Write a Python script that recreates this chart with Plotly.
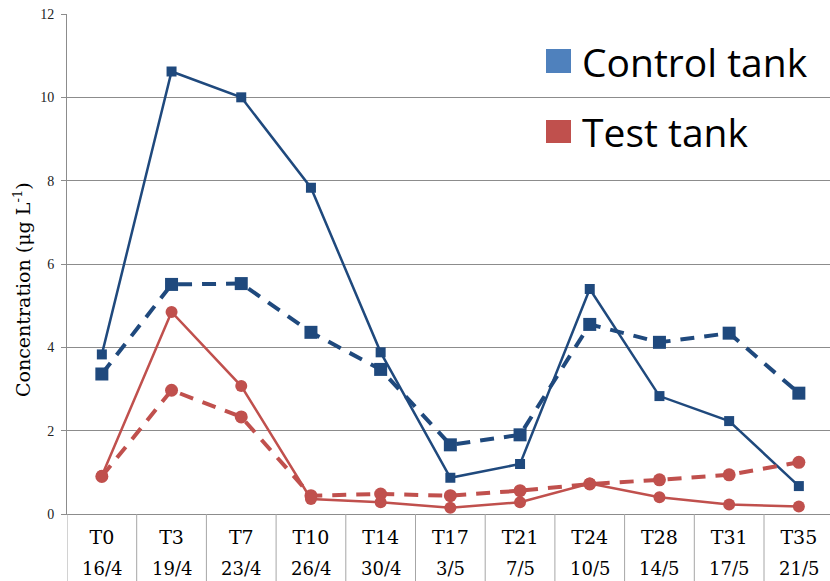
import plotly.graph_objects as go

# Sampling points and dates
periods = ["T0", "T3", "T7", "T10", "T14", "T17", "T21", "T24", "T28", "T31", "T35"]
dates = ["16/4", "19/4", "23/4", "26/4", "30/4", "3/5", "7/5", "10/5", "14/5", "17/5", "21/5"]

# Concentrations (µg L-1)
control_solid = [3.83, 10.62, 10.0, 7.83, 3.88, 0.87, 1.2, 5.4, 2.83, 2.23, 0.67]
control_dashed = [3.36, 5.51, 5.53, 4.36, 3.47, 1.66, 1.9, 4.55, 4.12, 4.34, 2.9]
test_solid = [0.92, 4.85, 3.07, 0.36, 0.28, 0.15, 0.28, 0.73, 0.4, 0.23, 0.18]
test_dashed = [0.9, 2.97, 2.33, 0.44, 0.48, 0.44, 0.56, 0.72, 0.82, 0.94, 1.24]

y_ticks = [0, 2, 4, 6, 8, 10, 12]

BLUE = "#1F497D"
RED = "#C0504D"
GRID = "#8C8C8C"
SERIF = "DejaVu Serif"

W, H = 830, 581
ML, MR, MT, MB = 67, 0, 14, 67
PW, PH = W - ML - MR, H - MT - MB
CAT_W = 69.7  # pixel width of one category column

x_idx = list(range(len(periods)))

fig = go.Figure()

fig.add_trace(go.Scatter(
    x=x_idx, y=control_dashed, mode="lines+markers",
    line=dict(color=BLUE, width=4, dash="14px,10px"),
    marker=dict(symbol="square", size=13, color=BLUE),
    showlegend=False))
fig.add_trace(go.Scatter(
    x=x_idx, y=control_solid, mode="lines+markers",
    line=dict(color=BLUE, width=2.5),
    marker=dict(symbol="square", size=10, color=BLUE),
    showlegend=False))
fig.add_trace(go.Scatter(
    x=x_idx, y=test_dashed, mode="lines+markers",
    line=dict(color=RED, width=4, dash="14px,10px"),
    marker=dict(symbol="circle", size=13, color=RED),
    showlegend=False))
fig.add_trace(go.Scatter(
    x=x_idx, y=test_solid, mode="lines+markers",
    line=dict(color=RED, width=2.5),
    marker=dict(symbol="circle", size=12, color=RED),
    showlegend=False))


def px_x(px):
    return (px - ML) / PW


def px_y(py):
    return (H - MB - py) / PH


shapes = []
annotations = []

# column separators of the category table below the axis
for i in range(len(periods) + 1):
    shapes.append(dict(type="line", xref="x", yref="paper",
                       x0=i - 0.5, x1=i - 0.5, y0=0, y1=px_y(H),
                       line=dict(color="#A6A6A6", width=1)))

# second row of the table: sampling dates
for i, d in enumerate(dates):
    annotations.append(dict(x=i, y=px_y(568), xref="x", yref="paper",
                            text=d, showarrow=False, xanchor="center",
                            yanchor="middle", borderpad=0,
                            font=dict(family=SERIF, size=18, color="#000000")))

# legend: coloured squares with labels
legend_items = [("Control tank", "#4F81BD", 49, 73, 62),
                ("Test tank", RED, 120, 143, 131.5)]
for label, col, top, bot, mid in legend_items:
    shapes.append(dict(type="rect", xref="paper", yref="paper",
                       x0=px_x(546), x1=px_x(571), y0=px_y(bot), y1=px_y(top),
                       fillcolor=col, line=dict(width=0)))
    annotations.append(dict(x=px_x(580), y=px_y(mid), xref="paper", yref="paper",
                            text=label, showarrow=False, xanchor="left",
                            yanchor="middle",
                            font=dict(family="Open Sans", size=39, color="#000000")))

# y-axis title
annotations.append(dict(x=px_x(22), y=px_y(290), xref="paper", yref="paper",
                        text="Concentration (μg L<sup>-1</sup>)", textangle=-90,
                        showarrow=False, xanchor="center", yanchor="middle",
                        font=dict(family=SERIF, size=19, color="#000000")))

fig.update_layout(
    width=W, height=H,
    margin=dict(l=ML, r=MR, t=MT, b=MB, pad=0),
    paper_bgcolor="white", plot_bgcolor="white",
    shapes=shapes, annotations=annotations,
    showlegend=False,
)

fig.update_xaxes(
    range=[-0.5, -0.5 + PW / CAT_W],
    tickmode="array", tickvals=x_idx, ticktext=periods,
    tickfont=dict(family=SERIF, size=19, color="#000000"),
    ticks="", ticklabelstandoff=6, showgrid=False, zeroline=False,
    showline=True, linecolor=GRID, linewidth=1,
)
fig.update_yaxes(
    range=[0, 12], tickmode="array", tickvals=y_ticks,
    tickfont=dict(family="Liberation Serif", size=14, color="#222222"),
    ticks="outside", ticklen=5, tickcolor=GRID, ticklabelstandoff=4,
    showgrid=True, gridcolor=GRID, gridwidth=1,
    zeroline=False, showline=True, linecolor=GRID, linewidth=1,
)

fig.write_html("out.html")
